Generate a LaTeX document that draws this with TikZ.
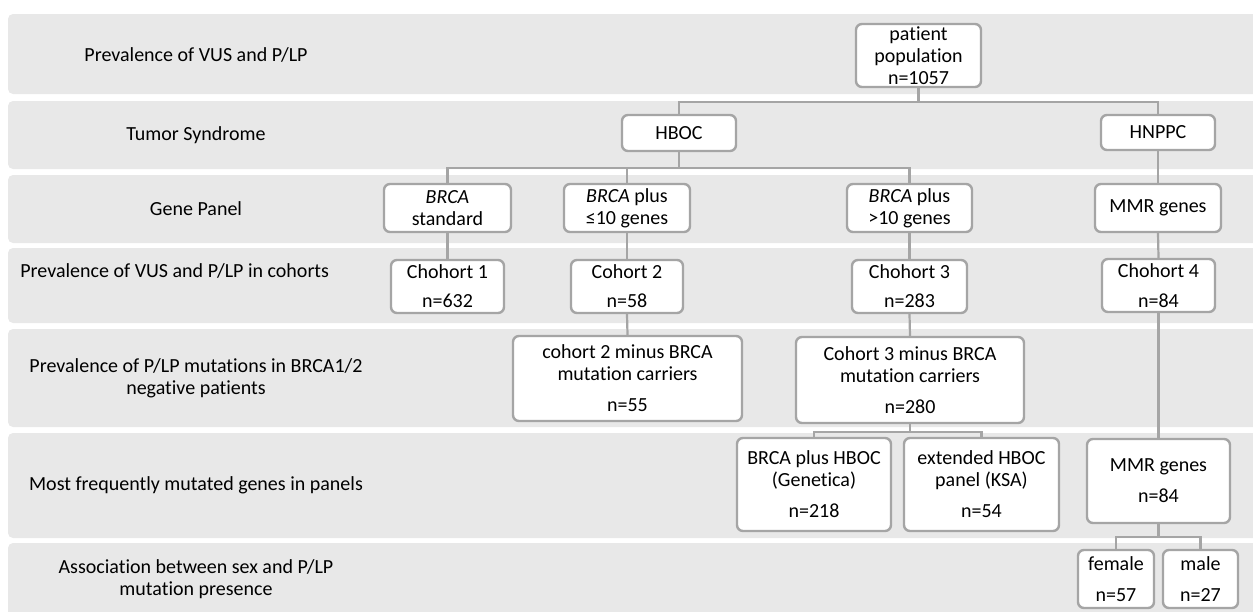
\documentclass[tikz,border=0pt]{standalone}
\usepackage{fontspec}
\setmainfont[Ligatures=NoCommon]{Carlito}
\usetikzlibrary{positioning}
\definecolor{bandgray}{RGB}{232,232,232}
\definecolor{linegray}{RGB}{165,165,165}
\tikzset{%
  band/.style={fill=bandgray,rounded corners=2.5pt},
  lbl/.style={font=\fontsize{10}{11}\selectfont,align=center,inner sep=0pt},
  box/.style={draw=linegray,fill=white,line width=1.2pt,rounded corners=3pt,
    align=center,inner sep=0pt,font=\fontsize{10}{11}\selectfont},
  conn/.style={draw=linegray,line width=1.1pt}
}

\begin{document}
\begin{tikzpicture}[x=0.5pt,y=-0.5pt]
  \useasboundingbox (0,0) rectangle (1253,611);
  \clip (0,0) rectangle (1253,611);

  % rows
  \fill[band] (8,14) rectangle (1270,94);
  \fill[band] (8,101) rectangle (1270,169);
  \fill[band] (8,175) rectangle (1270,243);
  \fill[band] (8,248) rectangle (1270,323);
  \fill[band] (8,329) rectangle (1270,427);
  \fill[band] (8,433) rectangle (1270,538);
  \fill[band] (8,543) rectangle (1270,640);

  \node[lbl] (r1) at (196,55) {Prevalence of VUS and P/LP};
  \node[lbl] (r2) at (196,135) {Tumor Syndrome};
  \node[lbl] (r3) at (196,209) {Gene Panel};
  \node[lbl,anchor=west] (r4) at (20,271) {Prevalence of VUS and P/LP in cohorts};
  \node[lbl] (r5) at (196,378) {Prevalence of P/LP mutations in BRCA1/2\\negative patients};
  \node[lbl] (r6) at (196,485) {Most frequently mutated genes in panels};
  \node[lbl] (r7) at (196,579) {Association between sex and P/LP\\mutation presence};

  % boxes
  \node[box,minimum width=62.5pt,minimum height=31.5pt] (pop) at (918.5,55.5) {patient\\population\\n=1057};
  \node[box,minimum width=57pt,minimum height=18pt] (hboc) at (679,133) {HBOC};
  \node[box,minimum width=57pt,minimum height=17.5pt] (hnppc) at (1158,132.5) {HNPPC};

  \node[box,minimum width=63.5pt,minimum height=24pt] (bstd) at (447.5,208) {\textit{BRCA}\\standard};
  \node[box,minimum width=63pt,minimum height=24pt] (bten) at (627,208) {\textit{BRCA} plus\\≤10 genes};
  \node[box,minimum width=62.5pt,minimum height=24pt] (bmore) at (909.5,208) {\textit{BRCA} plus\\>10 genes};
  \node[box,minimum width=63pt,minimum height=24pt] (mmra) at (1158,208) {MMR genes};

  \node[box,minimum width=56.5pt,minimum height=26.5pt] (coh1) at (447.5,286.5) {Chohort 1\\[3.5pt]n=632};
  \node[box,minimum width=56pt,minimum height=26.5pt] (coh2) at (627,286.5) {Cohort 2\\[3.5pt]n=58};
  \node[box,minimum width=57.5pt,minimum height=26.5pt] (coh3) at (909.5,286.5) {Chohort 3\\[3.5pt]n=283};
  \node[box,minimum width=56.5pt,minimum height=26.5pt] (coh4) at (1158.5,285.5) {Chohort 4\\[4pt]n=84};

  \node[box,minimum width=114.5pt,minimum height=42.5pt] (ctwo) at (627.5,378.5) {cohort 2 minus BRCA\\mutation carriers\\[4.5pt]n=55};
  \node[box,minimum width=114pt,minimum height=43pt] (cthree) at (910,380) {Cohort 3 minus BRCA\\mutation carriers\\[4.5pt]n=280};

  \node[box,minimum width=77pt,minimum height=46.5pt] (gen) at (814,484.5) {BRCA plus HBOC\\(Genetica)\\[4.5pt]n=218};
  \node[box,minimum width=77.5pt,minimum height=46.5pt] (ksa) at (981.5,484.5) {extended HBOC\\panel (KSA)\\[4.5pt]n=54};
  \node[box,minimum width=71.5pt,minimum height=42pt] (mmrb) at (1158.5,481) {MMR genes\\[4.5pt]n=84};

  \node[box,minimum width=38pt,minimum height=29pt] (fem) at (1116,579) {female\\[4.5pt]n=57};
  \node[box,minimum width=37.5pt,minimum height=29pt] (male) at (1200.5,579) {male\\[4.5pt]n=27};

  % connectors
  \draw[conn] (pop.south) -- ++(0,13.5) coordinate (ja);
  \draw[conn] (hboc.north) |- (ja) -| (hnppc.north);
  \draw[conn] (hboc.south) -- ++(0,16) coordinate (jb);
  \draw[conn] (bstd.north) |- (jb) -| (bmore.north);
  \draw[conn] (bten.north) -- (bten.north |- jb);
  \draw[conn] (hnppc.south) -- (mmra.north);
  \draw[conn] (bstd.south) -- (coh1.north);
  \draw[conn] (bten.south) -- (coh2.north);
  \draw[conn] (bmore.south) -- (coh3.north);
  \draw[conn] (mmra.south) -- (coh4.north);
  \draw[conn] (coh2.south) -- (ctwo.north);
  \draw[conn] (coh3.south) -- (cthree.north);
  \draw[conn] (cthree.south) -- ++(0,8) coordinate (jc);
  \draw[conn] (gen.north) |- (jc) -| (ksa.north);
  \draw[conn] (coh4.south) -- (mmrb.north);
  \draw[conn] (mmrb.south) -- ++(0,13) coordinate (jd);
  \draw[conn] (fem.north) |- (jd) -| (male.north);
\end{tikzpicture}
\end{document}
